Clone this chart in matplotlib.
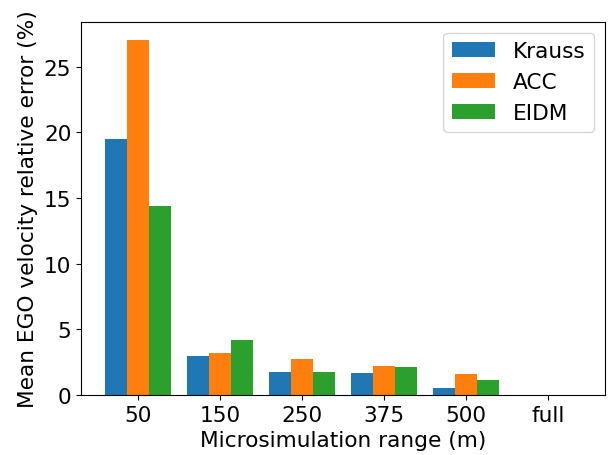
import numpy as np
import matplotlib.pyplot as plt

ranges = ['50', '150', '250', '375', '500', 'full']
krauss = [19.5, 2.97, 1.75, 1.67, 0.53, 0.0]
acc = [27.06, 3.2, 2.74, 2.2, 1.6, 0.0]
eidm = [14.4, 4.2, 1.75, 2.13, 1.14, 0.0]

x = np.arange(len(ranges))
w = 0.8 / 3
fs = 15.6

fig, ax = plt.subplots(figsize=(6.11, 4.56), dpi=100)
ax.bar(x - w, krauss, w, label='Krauss', color='tab:blue')
ax.bar(x, acc, w, label='ACC', color='tab:orange')
ax.bar(x + w, eidm, w, label='EIDM', color='tab:green')

ax.set_xticks(x)
ax.set_xticklabels(ranges)
ax.tick_params(labelsize=fs)
ax.set_xlabel('Microsimulation range (m)', fontsize=fs)
ax.set_ylabel('Mean EGO velocity relative error (%)', fontsize=fs)
ax.legend(fontsize=fs, loc='upper right')

fig.subplots_adjust(left=0.1326, right=0.990, bottom=0.1316, top=0.9496)
fig.savefig('out.png')
